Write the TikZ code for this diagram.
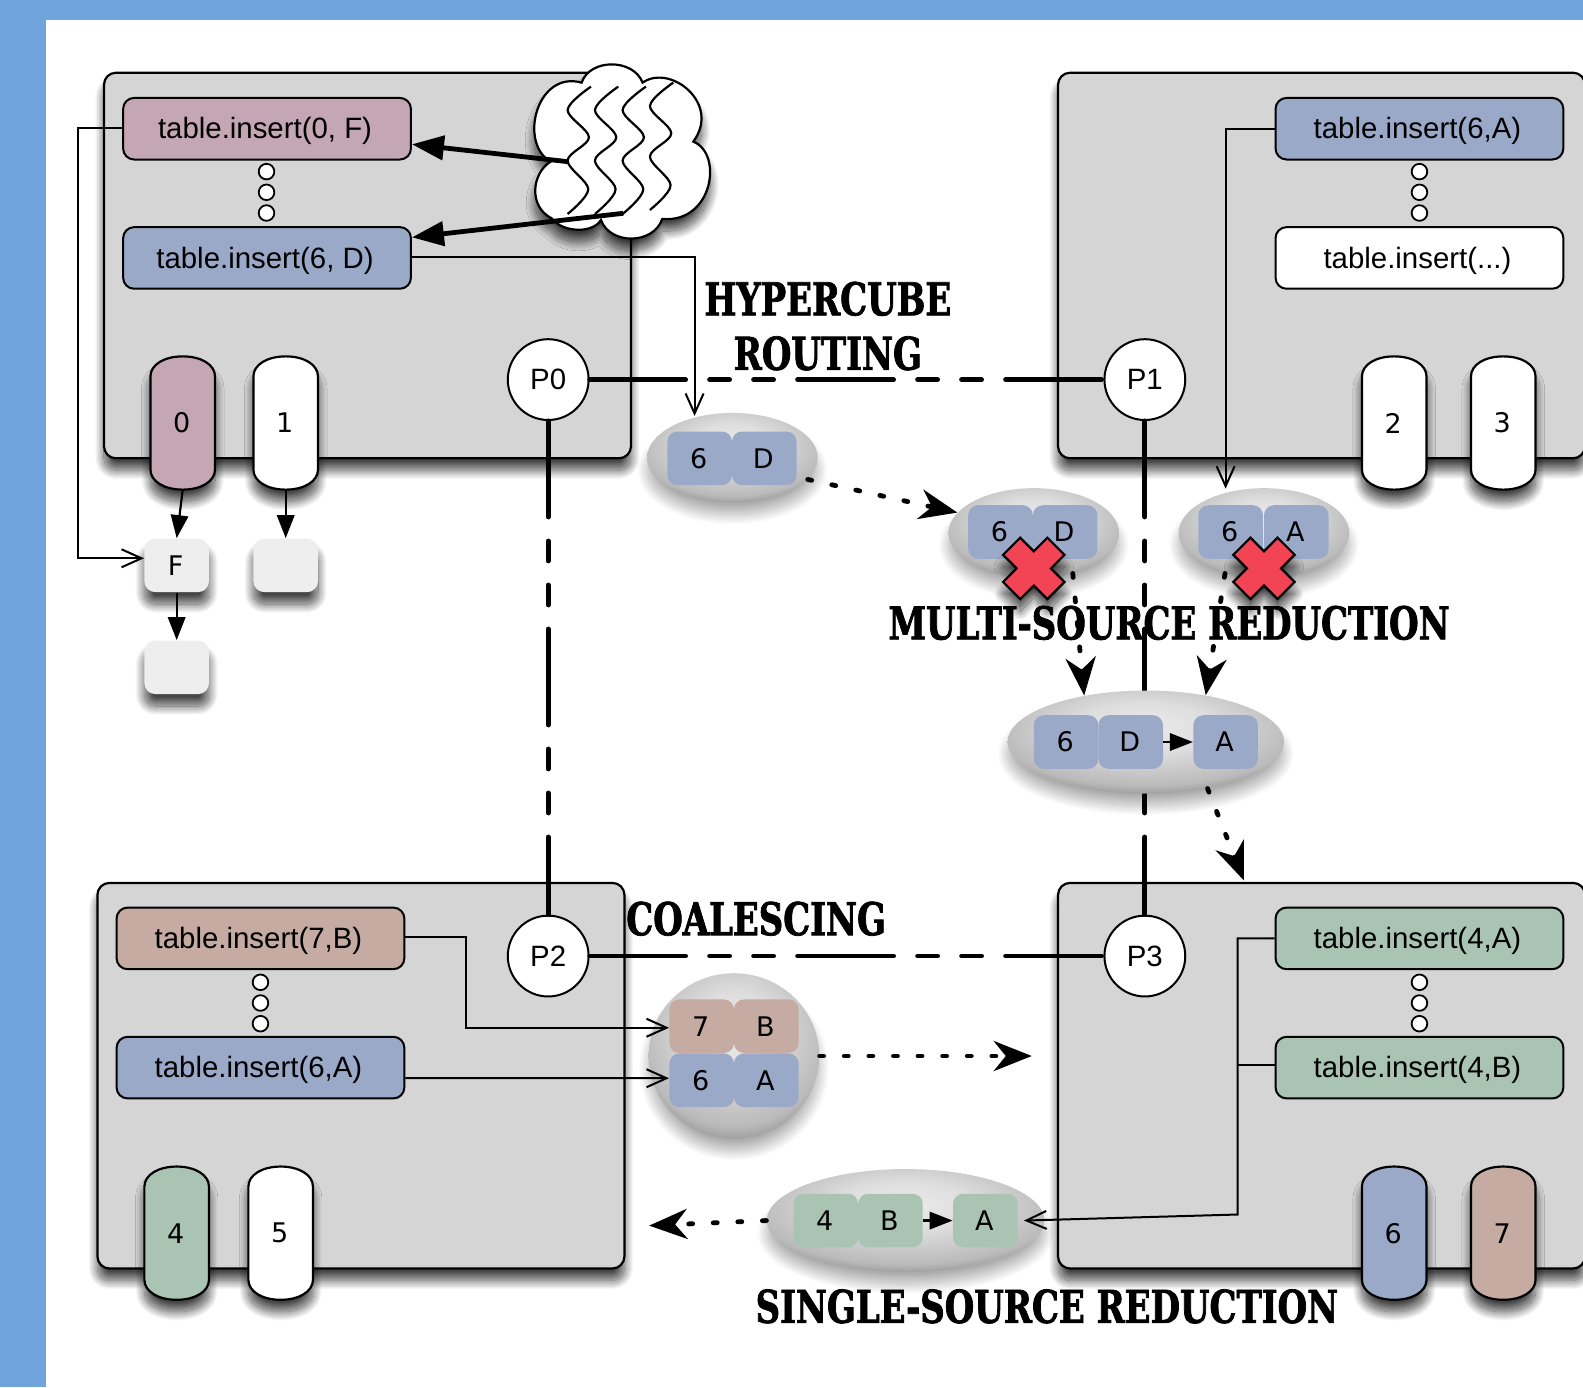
\documentclass[tikz,border=0pt]{standalone}
\usepackage{fontspec}
\setmainfont{Liberation Sans}
\newfontfamily\cellfont{DejaVu Sans}
\newfontfamily\stencilfont[FakeStretch=0.75,BoldFeatures={FakeBold=1.6}]{DejaVu Serif}
\usetikzlibrary{arrows.meta,shapes.geometric,shadows.blur}
\definecolor{framecol}{HTML}{6FA5DC}
\definecolor{boxcol}{HTML}{D5D5D5}
\definecolor{rosecol}{HTML}{C5A6B4}
\definecolor{bluecol}{HTML}{9BA9C9}
\definecolor{tancol}{HTML}{C5ABA1}
\definecolor{greencol}{HTML}{AAC4B4}
\definecolor{slotcol}{HTML}{EEEEEE}
\definecolor{crosscol}{HTML}{F24455}
\pgfdeclareradialshading{blobshade}{\pgfpoint{0bp}{8bp}}{color(0bp)=(black!8); color(12bp)=(black!13); color(27bp)=(black!27); color(38bp)=(black!58); color(48bp)=(black!44); color(100bp)=(black!44)}
\tikzset{
	softshadow/.style={blur shadow={shadow xshift=0pt,shadow yshift=-6pt,shadow blur radius=4.5pt,shadow blur steps=24,shadow opacity=72}},
	blobshadow/.style={blur shadow={shadow xshift=0pt,shadow yshift=-6pt,shadow blur radius=5pt,shadow blur steps=24,shadow opacity=32}},
	procbox/.style={rectangle,draw,line width=1.1pt,rounded corners=6pt,fill=boxcol,minimum width=263.5pt,minimum height=192.8pt,softshadow},
	insbox/.style={rectangle,draw,line width=1pt,rounded corners=5.5pt,minimum width=143.9pt,minimum height=30.8pt,inner sep=0pt,text depth=.5pt,execute at begin node=\kern-2pt,font=\fontsize{14.7}{16}\selectfont},
	pcircle/.style={circle,draw,line width=1pt,fill=white,minimum size=40.4pt,inner sep=0pt,font=\fontsize{14.7}{16}\selectfont},
	dotcircle/.style={circle,draw,line width=.9pt,fill=white,minimum size=7.8pt,inner sep=0pt},
	corepill/.style={draw,line width=1.1pt,softshadow},
	corelabel/.style={rectangle,minimum width=33pt,minimum height=66.6pt,inner sep=0pt,execute at begin node=\kern-1pt,font=\cellfont\fontsize{13.5}{15}\selectfont},
	slotbox/.style={rectangle,fill=slotcol,rounded corners=5.5pt,minimum width=32.3pt,minimum height=26.8pt,inner sep=0pt,softshadow,execute at begin node=\kern-1pt,font=\cellfont\fontsize{13.5}{15}\selectfont},
	cell/.style={rectangle,rounded corners=5pt,minimum width=32.3pt,minimum height=26.8pt,inner sep=0pt,execute at begin node=\kern-1pt,font=\cellfont\fontsize{13.5}{15}\selectfont},
	blob/.style={ellipse,shade,shading=blobshade,inner sep=0pt,blobshadow},
	bus/.style={line width=2.4pt,line cap=round,dash pattern=on 48pt off 12pt on 10pt off 12pt on 10pt off 12pt},
	wire/.style={line width=1pt,-{Straight Barb[length=10pt,width=9pt]}},
	wireplain/.style={line width=1pt},
	pushline/.style={line width=1.1pt,-{Triangle[length=11.5pt,width=8.7pt,fill=black]}},
	fatline/.style={line width=2.4pt,-{Triangle[length=16pt,width=12pt,fill=black]}},
	dotline/.style={line width=2.4pt,line cap=round,dash pattern=on 2pt off 10.3pt,-{Stealth[length=19pt,width=15pt,inset=6pt,fill=black]}},
	stencil/.style={inner sep=0pt,font=\stencilfont\bfseries\fontsize{22.6}{26}\selectfont},
	wave/.style={line width=1.1pt},
	xmark/.style={draw,line width=1.1pt,fill=crosscol,softshadow}
}
\begin{document}
\begin{tikzpicture}[x=0.5048pt,y=-0.5048pt]
	\useasboundingbox (0,0) rectangle (1568,1374);
	\clip (0,0) rectangle (1568,1374);
	\fill[framecol] (0,0) rectangle (1568,20);
	\fill[framecol] (0,0) rectangle (46,1374);
	%processor boxes
	\node[procbox] (boxA) at (364,263) {};
	\node[procbox] (boxB) at (1309,263) {};
	\node[procbox] (boxC) at (357.5,1065.5) {};
	\node[procbox] (boxD) at (1309,1065.5) {};
	%cores
	\foreach \cx/\cy/\ccol/\clab in {181/419/rosecol/0,283/419/white/1,1381/419/white/2,1489/419/white/3,175/1221.5/greencol/4,278/1221.5/white/5,1381/1221.5/bluecol/6,1489/1221.5/tancol/7}{
		\draw[corepill,fill=\ccol,shift={(\cx,\cy)}] (-32,-46) .. controls (-32,-58) and (-18,-66) .. (0,-66) .. controls (18,-66) and (32,-58) .. (32,-46) -- (32,46) .. controls (32,58) and (18,66) .. (0,66) .. controls (-18,66) and (-32,58) .. (-32,46) -- cycle;
		\node[corelabel] (core\clab) at (\cx,\cy) {\clab};
	}
	%slots under the cores
	\node[slotbox] (slotF) at (175,560) {F};
	\node[slotbox] (slotE) at (283,560) {};
	\node[slotbox] (slotN) at (175,661) {};
	\draw[pushline] (core0.south) -- (slotF.north);
	\draw[pushline] (core1.south) -- (slotE.north);
	\draw[pushline] (slotF.south) -- (slotN.north);
	%insert calls
	\node[insbox,fill=rosecol] (insF) at (264.5,127.5) {table.insert(0, F)};
	\node[insbox,fill=bluecol] (insD) at (264.5,255.5) {table.insert(6, D)};
	\node[insbox,fill=bluecol] (insA) at (1406,127.5) {table.insert(6,A)};
	\node[insbox,fill=white] (insX) at (1406,255.5) {table.insert(...)};
	\node[insbox,fill=tancol] (insB) at (258,929.5) {table.insert(7,B)};
	\node[insbox,fill=bluecol] (insC) at (258,1057.5) {table.insert(6,A)};
	\node[insbox,fill=greencol] (insG) at (1406,929.5) {table.insert(4,A)};
	\node[insbox,fill=greencol] (insH) at (1406,1057.5) {table.insert(4,B)};
	\foreach \dx/\dy/\dn in {264/170/a,1406/170/b,258/973/c,1406/973/d}{
		\node[dotcircle] (dot\dn1) at (\dx,\dy) {};
		\node[dotcircle] (dot\dn2) at (\dx,\dy+20.5) {};
		\node[dotcircle] (dot\dn3) at (\dx,\dy+41) {};
	}
	%hypercube links
	\node[pcircle] (pzero) at (543,376) {P0};
	\node[pcircle] (pone) at (1134,376) {P1};
	\node[pcircle] (ptwo) at (543,947) {P2};
	\node[pcircle] (pthree) at (1134,947) {P3};
	\draw[bus] (pzero.east) -- (pone.west);
	\draw[bus] (pzero.south) -- (ptwo.north);
	\draw[bus] (pone.south) -- (pthree.north);
	\draw[bus] (ptwo.east) -- (pthree.west);
	%cloud
	\begin{scope}[shift={(495.2,49.5)},x=0.16667pt,y=-0.16667pt]
		\draw[line width=1.1pt,fill=white,softshadow] (245,98) .. controls (270,25) and (400,25) .. (428,98) .. controls (510,40) and (665,160) .. (580,275) .. controls (670,310) and (640,520) .. (487,507) .. controls (460,585) and (330,585) .. (303,510) .. controls (280,550) and (190,550) .. (155,505) .. controls (85,470) and (95,370) .. (152,335) .. controls (55,280) and (110,60) .. (245,98) -- cycle;
		\foreach \wx/\wy in {0/0,82/0,165/0,247/-12}{
			\draw[wave,shift={(\wx,\wy)}] plot[smooth,tension=0.55] coordinates {(273,110) (203,180) (267,262) (203,332) (265,418) (203,492)};
		}
		\coordinate (cloudA) at (203,335);
		\coordinate (cloudB) at (370,490);
	\end{scope}
	\draw[fatline] (cloudA) -- ([yshift=-7.8pt]insF.east);
	\draw[fatline] (cloudB) -- ([yshift=10.3pt]insD.east);
	%blobs
	\node[blob,minimum width=85.3pt,minimum height=44.9pt] (blobD) at (725.5,453.5) {};
	\node[cell,fill=bluecol] (blobDa) at (693,454) {6};
	\node[cell,fill=bluecol] (blobDb) at (757,454) {D};
	\node[blob,minimum width=85.3pt,minimum height=44.9pt] (blobL) at (1024,528) {};
	\node[cell,fill=bluecol] (blobLa) at (991,527) {6};
	\node[cell,fill=bluecol] (blobLb) at (1055,527) {D};
	\node[blob,minimum width=85.3pt,minimum height=44.9pt] (blobR) at (1252,528) {};
	\node[cell,fill=bluecol] (blobRa) at (1219,527) {6};
	\node[cell,fill=bluecol] (blobRb) at (1284,527) {A};
	\foreach \mx in {1024,1252}{
		\draw[xmark,shift={(\mx,563)},rotate=45] (-12,-31) -- (12,-31) -- (12,-12) -- (31,-12) -- (31,12) -- (12,12) -- (12,31) -- (-12,31) -- (-12,12) -- (-31,12) -- (-31,-12) -- (-12,-12) -- cycle;
	}
	\node[blob,minimum width=138.3pt,minimum height=51.5pt] (blobM) at (1135,735) {};
	\node[cell,fill=bluecol] (blobMa) at (1056,735) {6};
	\node[cell,fill=bluecol] (blobMb) at (1120,735) {D};
	\node[cell,fill=bluecol] (blobMc) at (1214,735) {A};
	\draw[pushline] (blobMb.east) -- (blobMc.west);
	\node[blob,minimum width=85.3pt,minimum height=82.8pt] (blobQ) at (727,1046) {};
	\node[cell,fill=tancol] (blobQa) at (695,1016.5) {7};
	\node[cell,fill=tancol] (blobQb) at (759,1016.5) {B};
	\node[cell,fill=bluecol] (blobQc) at (695,1070) {6};
	\node[cell,fill=bluecol] (blobQd) at (759,1070) {A};
	\node[blob,minimum width=138.8pt,minimum height=51.5pt] (blobS) at (897,1209) {};
	\node[cell,fill=greencol] (blobSa) at (818,1209) {4};
	\node[cell,fill=greencol] (blobSb) at (882,1209) {B};
	\node[cell,fill=greencol] (blobSc) at (976,1209) {A};
	\draw[pushline] (blobSb.east) -- (blobSc.west);
	%wires
	\coordinate (bendF) at (77,553);
	\draw[wire] ([yshift=.6pt]insF.west) -| (bendF) -- (slotF.west |- bendF);
	\coordinate (bendD) at (688,412);
	\draw[wire] ([yshift=.7pt]insD.east) -| (bendD);
	\coordinate (bendA) at (1214,484);
	\draw[wire] (insA.west) -| (bendA);
	\coordinate (bendB) at (462,1018);
	\draw[wire] ([yshift=.7pt]insB.east) -| (bendB) -- (blobQa.west |- bendB);
	\draw[wire] ([yshift=-5.3pt]insC.east) -- ([yshift=1pt]blobQc.west);
	\coordinate (bendG) at (1226,1203);
	\draw[wire] (insG.west) -| (bendG) -- ([xshift=3pt]blobSc.east);
	\draw[wireplain] ([yshift=1.2pt]insH.west) -- ([yshift=1.2pt]insH.west -| bendG);
	%dotted hops
	\coordinate (hopD) at (1232,872);
	\coordinate (hopQ) at (1022,1046);
	\coordinate (hopS) at (643,1214);
	\draw[dotline] (blobD.-16) -- (blobL.165);
	\draw[dotline] (blobL.-46) -- (blobM.143);
	\draw[dotline] (blobR.-134) -- (blobM.38);
	\draw[dotline] (blobM.-37) -- (hopD);
	\draw[dotline] (blobQ.east) -- (hopQ);
	\draw[dotline] (blobS.west) -- (hopS);
	%titles
	\node[stencil] (titleHyper) at (820,296) {HYPERCUBE};
	\node[stencil] (titleRoute) at (820,350) {ROUTING};
	\node[stencil] (titleMulti) at (1158,617) {MULTI-SOURCE REDUCTION};
	\node[stencil] (titleCoal) at (749,910) {COALESCING};
	\node[stencil] (titleSingle) at (1037,1294) {SINGLE-SOURCE REDUCTION};
\end{tikzpicture}
\end{document}
